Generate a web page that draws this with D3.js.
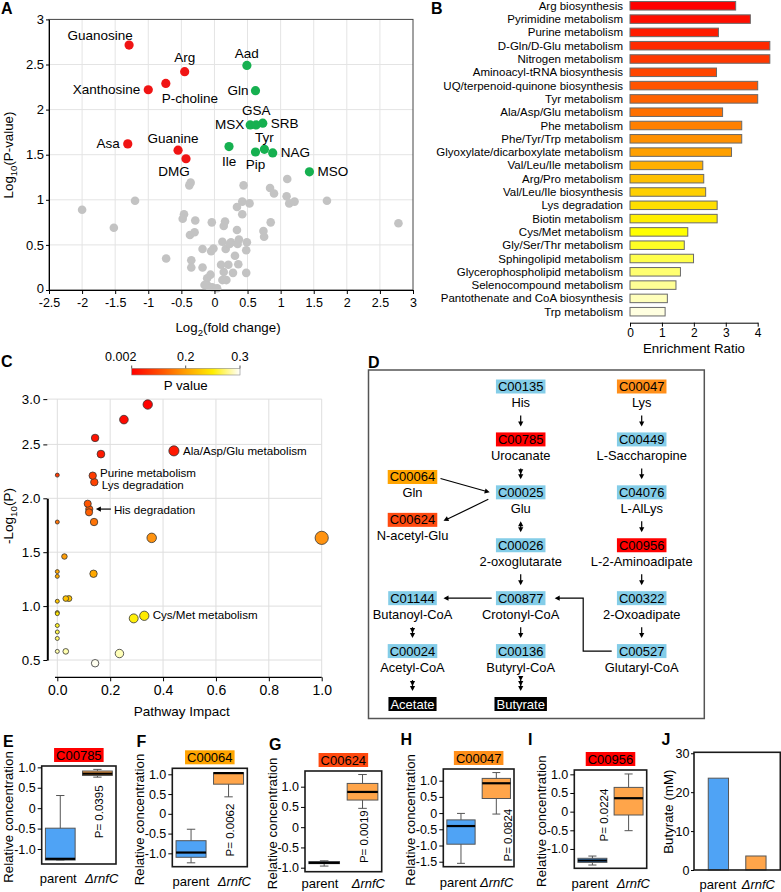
<!DOCTYPE html>
<html><head><meta charset="utf-8">
<script src="https://cdn.jsdelivr.net/npm/d3@7/dist/d3.min.js"></script>
<style>
html,body{margin:0;padding:0;background:#fff;}
svg text{font-family:"Liberation Sans",Arial,Helvetica,sans-serif;}
</style></head><body>
<svg id="fig" width="781" height="892" xmlns="http://www.w3.org/2000/svg"></svg>
<script>
// ================= DATA =================
// Panel A – volcano plot
const volcanoXTicks = [-2.5,-2,-1.5,-1,-0.5,0,0.5,1,1.5,2,2.5,3];
const volcanoYTicks = [0,0.5,1,1.5,2,2.5,3];
const grayFC = [-2.0,-1.52,-1.2,-0.73,-0.38,-0.36,-0.46,-0.48,-0.29,-0.37,-0.30,-0.35,-0.35,-0.18,-0.18,-0.04,-0.05,-0.015,-0.11,-0.06,-0.15,-0.095,-0.035,0.04,0.10,0.14,0.18,0.12,0.21,0.14,0.16,0.12,0.17,0.25,0.23,0.37,0.35,0.31,0.36,0.28,0.34,0.34,0.42,0.53,0.44,0.42,0.49,0.48,0.48,0.85,0.74,0.75,0.84,0.90,1.10,1.09,1.13,1.21,1.70,2.78];
const grayLogP = [0.89,0.69,0.99,0.35,1.16,1.19,0.84,0.79,0.77,0.61,0.64,0.33,0.25,0.25,0.455,0.75,0.43,0.46,0.13,0.17,0.055,0.044,0.03,0.02,0.28,0.20,0.11,0.11,0.28,0.71,0.76,0.535,0.455,0.53,0.51,0.56,0.51,0.38,0.285,0.19,0.665,0.92,0.98,0.96,1.16,0.84,0.53,0.44,0.19,0.75,0.654,0.59,1.13,1.07,1.23,1.04,0.96,0.98,0.99,0.74];
const redNames = ["Guanosine","Arg","P-choline","Xanthosine","Asa","Guanine","DMG"];
const redFC = [-1.29,-0.45,-0.735,-1.0,-1.31,-0.55,-0.43];
const redLogP = [2.715,2.42,2.29,2.22,1.62,1.55,1.455];
const greenNames = ["Aad","Gln","MSX","GSA","SRB","Tyr","Pip","NAG","Ile","MSO"];
const greenFC = [0.49,0.62,0.54,0.63,0.73,0.755,0.62,0.88,0.22,1.435];
const greenLogP = [2.49,2.21,1.83,1.83,1.85,1.56,1.53,1.52,1.59,1.31];

// Panel B – enrichment
const pathwayNames = ["Arg biosynthesis","Pyrimidine metabolism","Purine metabolism","D-Gln/D-Glu metabolism","Nitrogen metabolism","Aminoacyl-tRNA biosynthesis","UQ/terpenoid-quinone biosynthesis","Tyr metabolism","Ala/Asp/Glu metabolism","Phe metabolism","Phe/Tyr/Trp metabolism","Glyoxylate/dicarboxylate metabolism","Val/Leu/Ile metabolism","Arg/Pro metabolism","Val/Leu/Ile biosynthesis","Lys degradation","Biotin metabolism","Cys/Met metabolism","Gly/Ser/Thr metabolism","Sphingolipid metabolism","Glycerophospholipid metabolism","Selenocompound metabolism","Pantothenate and CoA biosynthesis","Trp metabolism"];
const enrichmentRatio = [3.31,3.77,2.77,4.38,4.38,2.71,4.0,4.0,2.90,3.50,3.50,3.18,2.28,2.31,2.37,2.73,2.73,1.81,1.70,1.99,1.58,1.44,1.17,1.10];
const enrichTicks = [0,1,2,3,4];

// Panel C – pathway impact
const impact = [0.342,0.252,0.143,0.165,0.441,0,0.134,0.14,0.115,0.121,0.12,0.139,0,0.357,1.0,0.027,0,0,0.137,0.032,0.044,0,0,0,0,0,0,0,0.032,0.289,0.329,0.235,0.143];
const negLogP = [2.87,2.73,2.56,2.41,2.44,2.215,2.21,2.15,1.95,1.90,1.87,1.78,1.78,1.633,1.633,1.46,1.32,1.276,1.30,1.07,1.07,1.045,0.94,0.93,0.82,0.76,0.70,0.58,0.58,0.886,0.91,0.56,0.47];
const impactTicks = [0,0.2,0.4,0.6,0.8,1.0];
const cYTicks = [0.5,1.0,1.5,2.0,2.5,2.92];
const cYLabels = ["0.5","1.0","1.5","2.0","2.5","3.0"];
const cAnnotations = [[4,"Ala/Asp/Glu metabolism"],[6,"Purine metabolism"],[7,"Lys degradation"],[9,"His degradation"],[30,"Cys/Met metabolism"]];
const pColorTicks = [0.002,0.2,0.3];

// Panel D – pathway map
const pathCodes = ["C00135","C00785","C00025","C00026","C00877","C00136","C00047","C00449","C04076","C00956","C00322","C00527","C00064","C00624","C01144","C00024","Acetate","Butyrate"];
const pathNames = ["His","Urocanate","Glu","2-oxoglutarate","Crotonyl-CoA","Butyryl-CoA","Lys","L-Saccharopine","L-AlLys","L-2-Aminoadipate","2-Oxoadipate","Glutaryl-CoA","Gln","N-acetyl-Glu","Butanoyl-CoA","Acetyl-CoA","",""];
const pathClass = ["n","r","n","n","n","n","o2","n","n","r","n","n","o","or","n","n","end","end"];
const pathLinks = [["C00135","C00785",1],["C00785","C00025",2],["C00025","C00026","bi"],["C00026","C00877",1],["C00877","C00136",1],["C00136","Butyrate",3],["C00047","C00449",1],["C00449","C04076",1],["C04076","C00956",1],["C00956","C00322",1],["C00322","C00527",1],["C01144","C00024",2],["C00024","Acetate",2]];

// Panels E–I – box plots
const groups = ["parent","ΔrnfC"];
const boxCodes = ["C00785","C00064","C00624","C00047","C00956"];
const boxPvals = ["0.0395","0.0062","0.0019","0.0824","0.0224"];
// [min, q1, median, q3, max]
const parentStats = [[-1.27,-1.27,-1.24,-0.49,0.31],[-1.24,-1.10,-0.98,-0.68,-0.39],[-0.96,-0.90,-0.88,-0.85,-0.83],[-1.55,-0.96,-0.40,-0.21,-0.01],[-1.43,-1.36,-1.31,-1.25,-1.19]];
const mutantStats = [[0.76,0.80,0.845,0.91,0.95],[0.43,0.75,1.03,1.04,1.04],[0.465,0.67,0.87,1.08,1.30],[-0.03,0.45,0.92,1.07,1.25],[-0.51,-0.09,0.36,0.65,1.01]];
const boxYTicks = [[-1,-0.5,0,0.5,1],[-1,-0.5,0,0.5,1],[-1,-0.5,0,0.5,1],[-1.5,-1,-0.5,0,0.5,1],[-1,-0.5,0,0.5,1]];

// Panel J – butyrate
const butyrate = [23.6,3.6];
const butyrateTicks = [0,10,20,30];

// ================= STYLE / LAYOUT =================
const svg = d3.select("#fig");
svg.append("rect").attr("width",781).attr("height",892).attr("fill","#fff");
const codeFill = {n:"#84cde8", r:"#ff0000", o:"#ffa400", o2:"#ff8f1a", or:"#ff4a10", end:"#000"};
const blue = "#4fa3f5", orange = "#ffa54a";

function letter(t,x,y){svg.append("text").attr("x",x).attr("y",y).attr("font-size",16).attr("font-weight","bold").text(t);}
function styleAxis(a,fs){a.attr("font-size",fs);a.selectAll("path.domain").attr("stroke","#000");a.selectAll(".tick line").attr("stroke","#000");a.selectAll(".tick text").attr("fill","#000");}
function subLabel(g,x,y,parts,fs,rot){
  const t=g.append("text").attr("transform",`translate(${x},${y})`+(rot?" rotate(-90)":"")).attr("text-anchor","middle").attr("font-size",fs);
  let prevSub=false;
  parts.forEach(([s,sub])=>{
    const ts=t.append("tspan").text(s);
    if(sub){ts.attr("font-size",fs*0.72).attr("dy",fs*0.3);} else if(prevSub){ts.attr("dy",-fs*0.3);}
    prevSub=sub;
  });
  return t;
}
function codeBox(g,cx,cy,text,fill,fs){
  const rect=g.append("rect");
  const t=g.append("text").attr("x",cx).attr("y",cy).attr("text-anchor","middle").attr("dominant-baseline","central").attr("font-size",fs).attr("fill",fill==="#000"?"#fff":"#000").text(text);
  const w=t.node().getComputedTextLength()+4;
  rect.attr("x",cx-w/2).attr("y",cy-7).attr("width",w).attr("height",14).attr("fill",fill);
}

// ================= PANEL A =================
(function(){
  const g=svg.append("g");
  const x=d3.scaleLinear().domain([-2.5,3]).range([49,413]);
  const y=d3.scaleLinear().domain([0,3]).range([290,19.4]);
  g.selectAll("line.vg").data(volcanoXTicks.slice(1,-1)).join("line").attr("class","vg")
    .attr("x1",d=>x(d)).attr("x2",d=>x(d)).attr("y1",y(0)).attr("y2",y(3)).attr("stroke","#e4e4e4");
  g.selectAll("line.hg").data(volcanoYTicks.slice(1,-1)).join("line").attr("class","hg")
    .attr("x1",x(-2.5)).attr("x2",x(3)).attr("y1",d=>y(d)).attr("y2",d=>y(d)).attr("stroke","#e4e4e4");
  g.append("rect").attr("x",x(-2.5)).attr("y",y(3)).attr("width",x(3)-x(-2.5)).attr("height",y(0)-y(3)).attr("fill","none").attr("stroke","#444");
  g.selectAll("circle.gr").data(grayFC.map((v,i)=>[v,grayLogP[i]])).join("circle").attr("class","gr")
    .attr("cx",d=>x(d[0])).attr("cy",d=>y(d[1])).attr("r",4.3).attr("fill","#c3c3c3");
  g.selectAll("circle.rd").data(redFC.map((v,i)=>[v,redLogP[i]])).join("circle").attr("class","rd")
    .attr("cx",d=>x(d[0])).attr("cy",d=>y(d[1])).attr("r",4.6).attr("fill","#f01414");
  g.selectAll("circle.gn").data(greenFC.map((v,i)=>[v,greenLogP[i]])).join("circle").attr("class","gn")
    .attr("cx",d=>x(d[0])).attr("cy",d=>y(d[1])).attr("r",4.6).attr("fill","#16b050");
  const off={Guanosine:[-29,-10,"middle"],Arg:[0,-14,"middle"],"P-choline":[24,15,"middle"],Xanthosine:[-8,0,"end"],Asa:[-8,0,"end"],Guanine:[-5,-12,"middle"],DMG:[-12,13,"middle"],
    Aad:[0,-12,"middle"],Gln:[-7,0,"end"],MSX:[-6,0,"end"],GSA:[0,-14,"middle"],SRB:[8,0,"start"],Tyr:[0,-12,"middle"],Pip:[0,13,"middle"],NAG:[8,0,"start"],Ile:[0,15,"middle"],MSO:[8,0,"start"]};
  const lab=(n,fx,ly)=>{const o=off[n];g.append("text").attr("x",x(fx)+o[0]).attr("y",y(ly)+o[1]).attr("text-anchor",o[2]).attr("dominant-baseline","central").attr("font-size",13.5).text(n);};
  redNames.forEach((n,i)=>lab(n,redFC[i],redLogP[i]));
  greenNames.forEach((n,i)=>lab(n,greenFC[i],greenLogP[i]));
  const ax=g.append("g").attr("transform",`translate(0,${y(0)})`).call(d3.axisBottom(x).tickValues(volcanoXTicks).tickSize(4).tickSizeOuter(0).tickPadding(4.5).tickFormat(d=>String(d)));
  styleAxis(ax,12.5);
  const ay=g.append("g").attr("transform",`translate(${x(-2.5)},0)`).call(d3.axisLeft(y).tickValues(volcanoYTicks).tickSize(3).tickSizeOuter(0).tickPadding(2).tickFormat(d=>String(d)));
  styleAxis(ay,13);
  ay.selectAll(".tick text").filter(d=>d===0).attr("dy","0.2em");
  subLabel(g,228,332,[["Log",false],["2",true],["(fold change)",false]],13.3,false);
  subLabel(g,13,155,[["Log",false],["10",true],["(P-value)",false]],13.3,true);
  letter("A",1,13.5);
})();

// ================= PANEL B =================
(function(){
  const g=svg.append("g");
  const x=d3.scaleLinear().domain([0,4]).range([630,757.7]);
  const y=d3.scaleBand().domain(pathwayNames).range([-0.85,318.35]).paddingInner(0.36).paddingOuter(0.18);
  const col=d3.scaleLinear().domain([0,8,11,17,20,23]).range(["#ff0000","#ff7000","#ffa000","#ffff00","#ffff70","#ffffe0"]);
  g.selectAll("rect.bar").data(pathwayNames).join("rect").attr("class","bar")
    .attr("x",x(0)).attr("y",d=>y(d)).attr("width",(d,i)=>x(enrichmentRatio[i])-x(0)).attr("height",y.bandwidth())
    .attr("fill",(d,i)=>col(i)).attr("stroke","#6a6a6a").attr("stroke-width",1);
  g.selectAll("text.pl").data(pathwayNames).join("text").attr("class","pl")
    .attr("x",623).attr("y",d=>y(d)+y.bandwidth()/2).attr("text-anchor","end").attr("dominant-baseline","central").attr("font-size",11.5).text(d=>d);
  const ax=g.append("g").attr("transform","translate(0,322.7)").call(d3.axisBottom(x).tickValues(enrichTicks).tickSize(4).tickSizeOuter(0).tickPadding(2).tickFormat(d3.format("d")));
  styleAxis(ax,12);
  g.append("text").attr("x",694).attr("y",348).attr("text-anchor","middle").attr("dominant-baseline","central").attr("font-size",13.3).text("Enrichment Ratio");
  letter("B",431,14);
})();

// ================= PANEL C =================
(function(){
  const g=svg.append("g");
  const x=d3.scaleLinear().domain([0,1]).range([57.3,321.7]);
  const y=d3.scaleLinear().domain([0.5,2.0]).range([660,498.3]);
  const top=y(cYTicks[cYTicks.length-1]), bottom=677.3;
  g.selectAll("line.vg").data(impactTicks).join("line").attr("class","vg")
    .attr("x1",d=>x(d)).attr("x2",d=>x(d)).attr("y1",top).attr("y2",bottom).attr("stroke","#dedede");
  g.selectAll("line.hg").data(cYTicks).join("line").attr("class","hg")
    .attr("x1",47.3).attr("x2",x(1)).attr("y1",d=>y(d)).attr("y2",d=>y(d)).attr("stroke","#dedede");
  const r=d3.scaleSqrt().domain([0,1]).range([2,6.6]);
  const col=d3.scaleLinear().domain([2.9,2.4,2.2,1.9,1.63,1.3,1.05,0.9,0.56,0.47]).range(["#ff0000","#ff1a00","#ff3d00","#ff5a00","#ff9410","#ffa800","#ffc400","#ffee00","#ffffb8","#fffff0"]).clamp(true);
  const pts=impact.map((v,i)=>({x:v,y:negLogP[i],i}));
  g.selectAll("circle.b").data(pts.slice().sort((a,b)=>b.x-a.x)).join("circle").attr("class","b")
    .attr("cx",d=>x(d.x)).attr("cy",d=>y(d.y)).attr("r",d=>r(d.x)).attr("fill",d=>col(d.y)).attr("stroke","#333").attr("stroke-width",0.8);
  const ay=g.append("g").attr("transform","translate(47.3,0)").call(d3.axisLeft(y).tickValues(cYTicks).tickSize(4).tickSizeOuter(0).tickPadding(3).tickFormat((d,i)=>cYLabels[i]));
  styleAxis(ay,13.3); ay.select("path.domain").attr("stroke-width",2);
  const ax=g.append("g").attr("transform",`translate(0,${bottom})`).call(d3.axisBottom(x).tickValues(impactTicks).tickSize(4).tickSizeOuter(0).tickPadding(4).tickFormat(d3.format(".1f")));
  styleAxis(ax,14); ax.select("path.domain").attr("d",`M55,0H${x(1)}`).attr("stroke-width",1.3);
  g.append("text").attr("x",181.7).attr("y",711).attr("text-anchor","middle").attr("dominant-baseline","central").attr("font-size",13.5).text("Pathway Impact");
  subLabel(g,13,516,[["-Log",false],["10",true],["(P)",false]],13.5,true);
  const aOff=[[4,0],[3.6,-3],[3.7,2],[21,0],[3.7,-1]];
  cAnnotations.forEach(([idx,txt],k)=>{
    const p=pts[idx];
    g.append("text").attr("x",x(p.x)+r(p.x)+aOff[k][0]).attr("y",y(p.y)+aOff[k][1]).attr("dominant-baseline","central").attr("font-size",11.6).text(txt);
  });
  const hp=pts[9];
  g.append("line").attr("x1",x(hp.x)+r(hp.x)+18).attr("x2",x(hp.x)+r(hp.x)+5).attr("y1",y(hp.y)).attr("y2",y(hp.y)).attr("stroke","#000").attr("stroke-width",1.2);
  g.append("path").attr("d","M0,0L-5,-2.6L-5,2.6Z").attr("transform",`translate(${x(hp.x)+r(hp.x)+3},${y(hp.y)}) rotate(180)`);
  const cb=d3.scaleLinear().domain(pColorTicks).range([131.7,185.7,240]);
  const defs=svg.append("defs");
  const lg=defs.append("linearGradient").attr("id","pgrad");
  [[0,"#ff0000"],[0.3,"#ff5a00"],[0.5,"#ffa000"],[0.75,"#ffee00"],[1,"#ffffff"]].forEach(([o,c])=>lg.append("stop").attr("offset",o).attr("stop-color",c));
  g.append("rect").attr("x",cb(0.002)).attr("y",368.3).attr("width",cb(0.3)-cb(0.002)).attr("height",6.7).attr("fill","url(#pgrad)").attr("stroke","#888").attr("stroke-width",0.6);
  const ldx=[-11,0,0];
  pColorTicks.forEach((t,i)=>{
    g.append("line").attr("x1",cb(t)).attr("x2",cb(t)).attr("y1",365.5).attr("y2",368.3).attr("stroke","#555");
    g.append("text").attr("x",cb(t)+ldx[i]).attr("y",361).attr("text-anchor","middle").attr("font-size",12.5).text(String(t));
  });
  g.append("text").attr("x",185.7).attr("y",385).attr("text-anchor","middle").attr("dominant-baseline","central").attr("font-size",13.3).text("P value");
  letter("C",1,367);
})();

// ================= PANEL D =================
(function(){
  const g=svg.append("g");
  g.append("rect").attr("x",368.5).attr("y",370).attr("width",335.8).attr("height",348.5).attr("fill","none").attr("stroke","#555").attr("stroke-width",1.5);
  const colX=d3.scaleOrdinal().domain(["L","M","R"]).range([412.5,520.7,641.7]);
  const rowY=d3.scaleLinear().domain([0,6]).range([386.5,704]);
  const layoutCol=["M","M","M","M","M","M","R","R","R","R","R","R","L","L","L","L","L","M"];
  const layoutRow=[0,1,2,3,4,5,0,1,2,3,4,5,1.71,2.52,4,5,6,6];
  const pos={};
  pathCodes.forEach((c,i)=>{pos[c]=[colX(layoutCol[i]),rowY(layoutRow[i])];});
  pathCodes.forEach((c,i)=>{
    const [cx,cy]=pos[c];
    codeBox(g,cx,cy,c,codeFill[pathClass[i]],13);
    if(pathNames[i]) g.append("text").attr("x",cx).attr("y",cy+16).attr("text-anchor","middle").attr("dominant-baseline","central").attr("font-size",12.9).text(pathNames[i]);
  });
  const head=(x,y,a)=>g.append("path").attr("d","M0,0L-5,-2.6L-5,2.6Z").attr("transform",`translate(${x},${y}) rotate(${a})`).attr("fill","#000");
  const line=(x1,y1,x2,y2)=>g.append("line").attr("x1",x1).attr("y1",y1).attr("x2",x2).attr("y2",y2).attr("stroke","#000").attr("stroke-width",1.2);
  pathLinks.forEach(([a,b,k])=>{
    const x=pos[a][0], y1=pos[a][1]+29, y2=pos[b][1]-13;
    line(x,y1+(k==="bi"?2:0),x,y2-2);
    if(k==="bi"){head(x,y2,90);head(x,y1,-90);}
    else{for(let j=0;j<k;j++)head(x,y2-j*5,90);}
  });
  let [mx,my]=pos["C00877"], [lx,ly]=pos["C01144"];
  line(mx-29,my,lx+33,ly); head(lx+31,ly,180);
  const [rx,ry]=pos["C00527"];
  const ex=(mx+rx)/2+2;
  g.append("path").attr("d",`M${rx-30},${ry}H${ex}V${my}H${mx+36}`).attr("fill","none").attr("stroke","#000").attr("stroke-width",1.2);
  head(mx+34,my,180);
  const [gx,gy]=pos["C00064"], [ux,uy]=pos["C00025"], [nx,ny]=pos["C00624"];
  const s1=[gx+28,gy+1.5], t1=[ux-31,uy];
  line(s1[0],s1[1],t1[0]-2,t1[1]-0.6); head(t1[0],t1[1],Math.atan2(t1[1]-s1[1],t1[0]-s1[0])*180/Math.PI);
  const s2=[ux-32.4,uy+7], t2=[nx+31,ny+1];
  line(s2[0],s2[1],t2[0]+2,t2[1]-0.8); head(t2[0],t2[1],Math.atan2(t2[1]-s2[1],t2[0]-s2[0])*180/Math.PI);
  letter("D",368,368);
})();

// ================= PANELS E–I =================
const boxLayout=[
  {x0:41.7,x1:116,y0:766,y1:864,dom:[-1.367,1.033],dx:1.5,py:-0.09,L:"E",lx:3,ly:746.7,gl:[16.6,14.3],gy:878.3},
  {x0:172.3,x1:247.3,y0:768.3,y1:866.7,dom:[-1.338,1.152],dx:1.5,py:-0.41,L:"F",lx:136.5,ly:746.7,gl:[18.7,13],gy:881.7},
  {x0:305,x1:381.7,y0:771,y1:871.7,dom:[-1.099,1.387],dx:1,py:-0.235,L:"G",lx:269,ly:750,gl:[15,13.4],gy:883.5},
  {x0:443.3,x1:514,y0:769,y1:866.7,dom:[-1.654,1.36],dx:12,py:-0.68,L:"H",lx:400.5,ly:745,gl:[15,17.3],gy:882.5},
  {x0:574.3,x1:646.7,y0:770,y1:868.3,dom:[-1.518,1.116],dx:-25,py:-0.09,L:"I",lx:528,ly:745,gl:[15.7,13.4],gy:883}
];
const titleFill=["#ff0000","#ffa400","#ff4a10","#ff8f1a","#ff0000"];
boxLayout.forEach((L,i)=>{
  const g=svg.append("g");
  const y=d3.scaleLinear().domain(L.dom).range([L.y1,L.y0]);
  const x=d3.scaleBand().domain(groups).range([L.x0,L.x1]).paddingInner(0.2).paddingOuter(0.1);
  const bw=x.bandwidth();
  [parentStats[i],mutantStats[i]].forEach((s,j)=>{
    const x0=x(groups[j]), cx=x0+bw/2, cw=bw*0.28;
    g.append("line").attr("x1",cx).attr("x2",cx).attr("y1",y(s[0])).attr("y2",y(s[4])).attr("stroke","#555");
    [s[0],s[4]].forEach(v=>g.append("line").attr("x1",cx-cw/2).attr("x2",cx+cw/2).attr("y1",y(v)).attr("y2",y(v)).attr("stroke","#555"));
    g.append("rect").attr("x",x0).attr("y",y(s[3])).attr("width",bw).attr("height",Math.max(1,y(s[1])-y(s[3]))).attr("fill",j?orange:blue).attr("stroke","#555");
    g.append("line").attr("x1",x0).attr("x2",x0+bw).attr("y1",y(s[2])).attr("y2",y(s[2])).attr("stroke","#000").attr("stroke-width",2.2);
  });
  g.append("rect").attr("x",L.x0).attr("y",L.y0).attr("width",L.x1-L.x0).attr("height",L.y1-L.y0).attr("fill","none").attr("stroke","#1a1a1a").attr("stroke-width",1.6);
  const ay=g.append("g").attr("transform",`translate(${L.x0},0)`).call(d3.axisLeft(y).tickValues(boxYTicks[i]).tickSize(4).tickSizeOuter(0).tickPadding(2).tickFormat(d=>d===0?"0":d.toFixed(1)));
  styleAxis(ay,12.5); ay.select("path.domain").remove();
  groups.forEach((gn,j)=>{
    const t=g.append("text").attr("x",j?L.x1-L.gl[1]:L.x0+L.gl[0]).attr("y",L.gy).attr("text-anchor","middle").attr("dominant-baseline","central").attr("font-size",13).text(gn);
    if(j) t.attr("font-style","italic");
  });
  codeBox(g,(L.x0+L.x1)/2,L.y0-11,boxCodes[i],titleFill[i],13);
  g.append("text").attr("transform",`translate(${L.x0-33},${(L.y0+L.y1)/2+2}) rotate(-90)`).attr("text-anchor","middle").attr("dominant-baseline","central").attr("font-size",13.3).text("Relative concentration");
  g.append("text").attr("transform",`translate(${x(groups[1])+bw/2+L.dx},${y(L.py)}) rotate(-90)`).attr("text-anchor","middle").attr("dominant-baseline","central").attr("font-size",11.5).text("P= "+boxPvals[i]);
  letter(L.L,L.lx,L.ly);
});

// ================= PANEL J =================
(function(){
  const g=svg.append("g");
  const L={x0:694,x1:780.3,y0:752.3,y1:870};
  const y=d3.scaleLinear().domain([0,30.25]).range([L.y1,L.y0]);
  const x=d3.scaleBand().domain(groups).range([L.x0,L.x1]).paddingInner(0.46).paddingOuter(0.38);
  g.selectAll("rect.jb").data(butyrate).join("rect").attr("class","jb")
    .attr("x",(d,i)=>x(groups[i])).attr("y",d=>y(d)).attr("width",x.bandwidth()).attr("height",d=>y(0)-y(d))
    .attr("fill",(d,i)=>i?orange:blue).attr("stroke","#555");
  g.append("rect").attr("x",L.x0).attr("y",L.y0).attr("width",L.x1-L.x0).attr("height",L.y1-L.y0).attr("fill","none").attr("stroke","#1a1a1a").attr("stroke-width",1.6);
  const ay=g.append("g").attr("transform",`translate(${L.x0},0)`).call(d3.axisLeft(y).tickValues(butyrateTicks).tickSize(3).tickSizeOuter(0).tickPadding(1.5));
  styleAxis(ay,12.5); ay.select("path.domain").remove();
  const gl=[24,22];
  groups.forEach((gn,j)=>{
    const t=g.append("text").attr("x",j?L.x1-gl[1]:L.x0+gl[0]).attr("y",884).attr("text-anchor","middle").attr("dominant-baseline","central").attr("font-size",13).text(gn);
    if(j) t.attr("font-style","italic");
  });
  g.append("text").attr("transform",`translate(${L.x0-26},811.7) rotate(-90)`).attr("text-anchor","middle").attr("dominant-baseline","central").attr("font-size",13.3).text("Butyrate (mM)");
  letter("J",661.5,745);
})();
</script></body></html>
